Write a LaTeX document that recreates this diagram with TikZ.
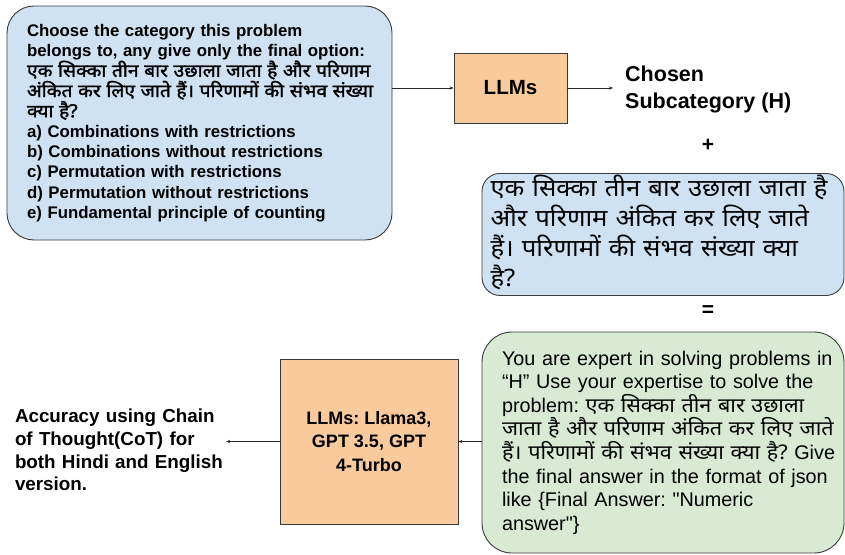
\documentclass[tikz,border=0pt]{standalone}
\usepackage{fontspec}
\setmainfont{Liberation Sans}
\newfontfamily\hin[Script=Devanagari,FakeStretch=1.07]{Noto Sans}
\newfontfamily\hinb[Script=Devanagari,FakeStretch=1.07,FakeBold=1.6]{Noto Sans}
\usetikzlibrary{arrows.meta}
\definecolor{qblue}{HTML}{CFE2F3}
\definecolor{lorange}{HTML}{F9CB9C}
\definecolor{agreen}{HTML}{D9EAD3}
\definecolor{edge}{HTML}{3A3A3A}
\frenchspacing
\tikzset{
  qbox/.style={draw=edge,fill=qblue,line width=0.9pt,align=left,inner xsep=0pt},
  llm/.style={draw=edge,fill=lorange,line width=0.9pt,align=center},
  ans/.style={draw=edge,fill=agreen,line width=0.9pt,align=left,inner xsep=0pt,rounded corners=30pt},
  lbl/.style={inner sep=0pt,font=\bfseries},
  arr/.style={line width=0.7pt,draw=black!85,-{Stealth[length=4pt,width=3.2pt]}}
}
\newcommand{\hi}[1]{{\hin #1}}
\newcommand{\hib}[1]{{\hinb #1}}
\newcommand{\fsz}[2]{\fontsize{#1}{#2}\selectfont}

\begin{document}
\begin{tikzpicture}[x=1pt,y=-1pt]
\useasboundingbox (0,0) rectangle (845,554);
\node[qbox,rounded corners=27pt,text width=365pt,minimum width=385pt,minimum height=234pt,
  font=\fsz{16.8}{20.2}\bfseries,execute at begin node={\leftskip=10pt\relax}] (prompt) at (199.5,123)
  {Choose the category this problem\\
   belongs to, any give only the final option:\\
   \hib{\fsz{18}{20.2}एक सिक्का तीन बार उछाला जाता है और परिणाम}\\
   \hib{\fsz{18}{20.2}अंकित कर लिए जाते हैं। परिणामों की संभव संख्या}\\
   \hib{\fsz{18}{20.2}क्या है?}\\
   a) Combinations with restrictions\\
   b) Combinations without restrictions\\
   c) Permutation with restrictions\\
   d) Permutation without restrictions\\
   e) Fundamental principle of counting};
\node[llm,minimum width=113pt,minimum height=70pt,font=\fsz{20.5}{24}\bfseries] (llm) at (510.5,88) {LLMs};
\node[lbl,anchor=west,inner xsep=12pt,align=left,font=\fsz{21.5}{27}\bfseries] (chosen) at (613,89)
  {Chosen\\Subcategory (H)};
\node[lbl,font=\fsz{21}{24}\bfseries] (plus) at (708,145) {+};
\node[qbox,rounded corners=18pt,text width=345pt,minimum width=362pt,inner ysep=0pt,
  text height=23pt,text depth=99pt,font=\fsz{24}{30}\hin] (sub) at (663,173) [anchor=north]
  {एक सिक्का तीन बार उछाला जाता है\\
   और परिणाम अंकित कर लिए जाते\\
   हैं। परिणामों की संभव संख्या क्या\\
   है?};
\node[lbl,font=\fsz{21}{24}\bfseries] (eq) at (708,311) {=};
\node[ans,text width=356pt,minimum width=362pt,minimum height=221pt,font=\fsz{19.8}{23.6},
  execute at begin node={\leftskip=17pt\relax}] (ans) at (663,442.5)
  {You are expert in solving problems in\\
   “H” Use your expertise to solve the\\
   problem: \hi{\fsz{20.2}{23.6}एक सिक्का तीन बार उछाला}\\
   \hi{\fsz{20.2}{23.6}जाता है और परिणाम अंकित कर लिए जाते}\\
   \hi{\fsz{20.2}{23.6}हैं। परिणामों की संभव संख्या क्या है?} Give\\
   the final answer in the format of json\\
   like \{Final Answer: \textquotedbl Numeric\\
   answer\textquotedbl\}};
\node[llm,minimum width=178pt,minimum height=165pt,font=\fsz{18}{23.5}\bfseries] (llm2) at (369,441.5)
  {LLMs: Llama3,\\GPT 3.5, GPT\\4-Turbo};
\node[lbl,text width=211pt,align=left,font=\fsz{18.8}{22.7}\bfseries] (acc) at (120.5,450)
  {\makebox[211pt][s]{Accuracy using Chain}\\
   of Thought(CoT) for\\
   both Hindi and English\\
   version.};
\draw[arr] (prompt.east |- llm.west) -- (llm.west);
\draw[arr] (llm.east) -- (llm.east -| chosen.west);
\draw[arr] (ans.west |- llm2.east) -- (llm2.east);
\draw[arr] (llm2.west) -- (llm2.west -| acc.east);
\end{tikzpicture}
\end{document}
